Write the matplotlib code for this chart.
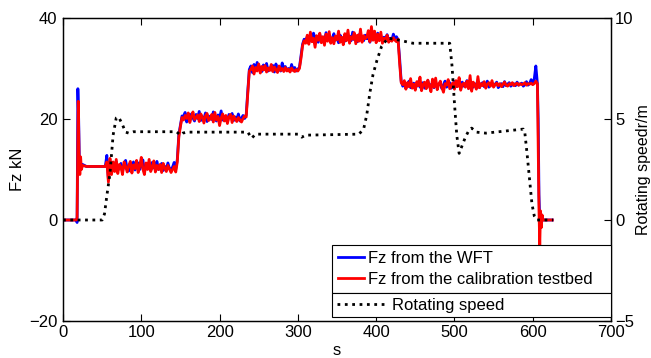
import numpy as np
import matplotlib
matplotlib.use("Agg")
import matplotlib.pyplot as plt

plt.rcParams['font.family'] = ['Liberation Sans', 'DejaVu Sans']

# ---------------- data ----------------
# Fz from the WFT (blue) - transition points
wft_t_start = [0, 17, 18, 19, 20, 21, 22, 23, 25, 30, 54]
wft_v_start = [0, 0, -0.5, 26, 20, 11, 12, 10.8, 11, 10.6, 10.6]
cal_t_start = [0, 17, 18, 19.5, 20.5, 21.5, 22.5, 23.5, 25, 30, 54]
cal_v_start = [0, 0, 0.5, 23.5, 13, 9, 12.5, 10, 10.8, 10.6, 10.6]

# noisy plateaus, sampled every 2 s
seg_starts = [56, 154, 240, 310, 434]
wft_A = [12.8, 8.0, 11.5, 9.5, 10.8, 10.2, 11.6, 9.8, 10.5, 11.2, 9.6, 10.9, 11.8, 10.1, 9.7,
         11.0, 10.4, 11.5, 9.9, 10.6, 11.3, 10.0, 10.8, 11.9, 9.8, 10.5, 11.1, 10.2, 9.9, 11.4,
         10.3, 10.7, 11.6, 10.0, 10.4, 11.2, 9.8, 10.6, 10.1, 11.3, 10.2, 9.9, 10.5, 11.4, 10.0]
cal_A = [11.5, 7.5, 12.2, 9.0, 11.5, 9.6, 12.0, 9.2, 11.0, 10.5, 9.0, 11.5, 10.6, 9.5, 10.8,
         11.6, 9.3, 10.9, 10.2, 11.8, 9.4, 10.7, 12.4, 10.1, 9.0, 11.3, 10.0, 12.0, 9.6, 10.4,
         11.7, 9.5, 10.8, 10.0, 11.0, 9.4, 11.2, 10.3, 9.6, 10.8, 10.1, 9.4, 10.0, 10.6, 9.5]
wft_B = [20.5, 21.3, 19.4, 20.8, 19.8, 21.0, 20.2, 19.6, 20.9, 20.1, 21.5, 19.7, 20.4, 20.0,
         21.2, 19.5, 20.6, 20.3, 19.9, 21.4, 20.1, 19.6, 20.8, 20.2, 21.6, 19.8, 20.5, 20.0,
         19.4, 20.9, 20.3, 21.1, 19.7, 20.4, 20.0, 21.0, 19.6, 20.2, 20.7, 20.1]
cal_B = [19.8, 20.7, 20.1, 21.2, 19.3, 20.5, 21.4, 19.9, 20.3, 20.8, 19.5, 21.0, 20.4, 19.2,
         20.6, 21.1, 19.7, 20.0, 20.9, 19.4, 21.3, 19.8, 20.5, 18.7, 20.2, 21.0, 19.6, 20.7,
         19.1, 20.4, 20.9, 19.3, 20.6, 20.0, 19.5, 20.3, 19.8, 19.4, 20.1, 20.6]
wft_C = [30.5, 29.2, 30.8, 29.6, 31.2, 29.9, 30.3, 29.4, 30.7, 29.8, 31.0, 29.5, 30.1, 29.7,
         30.6, 29.3, 30.9, 29.8, 30.2, 29.5, 31.1, 29.9, 30.4, 29.6, 30.0, 29.4, 30.8, 29.7,
         30.2, 29.5, 29.9]
cal_C = [29.8, 30.5, 28.9, 30.2, 29.5, 30.9, 29.1, 30.4, 29.7, 30.6, 29.3, 30.1, 29.6, 30.8,
         29.4, 30.3, 29.8, 29.2, 30.5, 29.6, 30.0, 29.4, 30.2, 29.5, 29.9, 29.3, 30.1, 29.6,
         29.4, 29.8, 29.5]
wft_D = [35.5, 36.3, 35.1, 36.8, 35.6, 37.0, 35.9, 36.4, 35.2, 36.7, 35.8, 36.2, 35.4, 37.1,
         35.7, 36.5, 35.3, 36.0, 36.9, 35.6, 36.3, 35.1, 36.6, 35.8, 36.1, 35.4, 36.8, 35.9,
         36.4, 35.5, 37.2, 35.7, 36.2, 35.3, 36.7, 35.8, 36.0, 35.5, 36.6, 35.9, 36.3, 35.2,
         36.9, 35.7, 36.1, 35.6, 37.0, 35.9, 36.4, 35.5, 36.2, 35.8, 36.7, 35.4, 36.0, 35.6,
         36.8, 35.9, 36.3, 35.7]
cal_D = [35.0, 36.6, 34.8, 37.2, 35.3, 36.0, 34.2, 36.5, 35.6, 37.0, 35.1, 36.3, 34.6, 36.8,
         35.4, 37.3, 35.0, 36.1, 34.9, 36.4, 35.7, 37.4, 35.2, 36.2, 34.7, 36.9, 35.5, 37.6,
         35.0, 36.3, 35.8, 37.1, 34.9, 36.6, 35.4, 37.8, 35.2, 36.5, 35.9, 36.2, 37.5, 35.3,
         38.3, 35.6, 37.4, 35.1, 36.8, 35.5, 37.2, 35.0, 36.0, 35.7, 36.6, 35.2, 35.9, 35.4,
         36.1, 35.6, 35.3, 35.8]
wft_E = [26.5, 27.3, 26.1, 26.9, 27.5, 26.2, 26.8, 27.1, 26.0, 26.7, 27.4, 26.3, 26.9, 27.2,
         26.1, 26.6, 27.6, 26.4, 26.8, 27.0, 26.2, 27.3, 26.5, 26.9, 27.1, 26.0, 26.7, 27.5,
         26.3, 26.8, 27.2, 26.1, 26.6, 27.4, 26.4, 26.9, 27.0, 26.2, 27.3, 26.5, 26.8, 27.6,
         26.1, 26.7, 27.1, 26.3, 27.0, 26.6, 27.4, 26.2, 26.9, 27.2, 26.4, 26.8, 27.5, 26.3,
         26.7, 27.1, 26.5, 26.9, 27.3, 26.2, 26.8, 27.0, 26.4, 27.4, 26.6, 26.9, 27.2, 26.5,
         26.8, 27.0, 26.6, 27.3, 26.7, 26.9, 27.1, 26.5, 26.8, 27.4, 26.7, 27.0, 27.8, 26.9,
         28.0]
cal_E = [26.8, 27.6, 25.9, 27.2, 26.4, 28.0, 26.1, 26.9, 25.7, 27.4, 26.6, 28.3, 25.6, 26.8,
         27.3, 26.0, 27.7, 26.5, 25.4, 27.9, 26.3, 28.1, 25.8, 26.9, 27.5, 26.2, 25.3, 27.0,
         26.7, 27.8, 26.0, 26.6, 27.2, 25.9, 27.6, 26.4, 28.2, 25.7, 26.8, 27.1, 26.3, 27.5,
         26.0, 28.6, 25.5, 27.3, 26.7, 25.9, 28.4, 26.2, 27.0, 26.6, 27.4, 26.1, 26.9, 27.2,
         26.5, 27.6, 26.3, 26.8, 27.1, 26.6, 27.0, 26.4, 26.9, 27.3, 26.7, 26.5, 27.0, 26.8,
         27.2, 26.6, 26.9, 27.1, 26.7, 27.0, 26.8, 26.9, 27.2, 26.7, 27.0, 26.9, 27.1, 26.8,
         27.0]

# transitions between plateaus
trans_AB_t = [146, 148, 150, 152]
wft_AB = [12.0, 17.0, 18.8, 20.6]
cal_AB = [11.5, 16.5, 18.5, 20.3]
trans_BC_t = [234, 236, 238]
wft_BC = [20.8, 25.5, 29.8]
cal_BC = [20.4, 25.0, 29.5]
trans_CD_t = [302, 304, 306, 308]
wft_CD = [30.2, 32.5, 34.8, 35.8]
cal_CD = [30.0, 32.0, 34.5, 35.5]
trans_DE_t = [430, 432]
wft_DE = [32.0, 27.5]
cal_DE = [31.0, 27.2]

wft_t_end = [604, 606, 607, 608, 609, 610, 611, 612, 613, 625]
wft_v_end = [30.5, 27.0, 20.0, 5.0, 0.0, 1.5, -1.0, 0.5, 0.0, 0.0]
cal_t_end = [604, 606, 607, 608, 609, 610, 611, 612, 613, 625]
cal_v_end = [27.5, 27.0, 15.0, 2.0, -5.0, 1.8, -1.5, 1.0, 0.0, 0.0]

# rotating speed (r/m)
speed_t = [0, 50, 53, 56, 60, 64, 68, 71, 75, 80, 84, 90, 145, 150, 153, 158, 236, 241, 246,
           300, 305, 310, 378, 384, 388, 392, 396, 401, 407, 415, 430, 447,
           494, 497, 500, 503, 506, 510, 514, 518, 522, 528, 540, 588, 590, 593, 596, 599,
           602, 605, 626]
speed_v = [0, 0, 0.3, 1.2, 2.3, 4.2, 5.05, 5.1, 4.8, 4.35, 4.3, 4.37, 4.37, 4.2, 4.3, 4.35,
           4.35, 4.05, 4.25, 4.25, 4.1, 4.2, 4.25, 4.5, 5.2, 6.3, 7.2, 7.9, 8.6, 9.0, 8.9, 8.75,
           8.75, 7.6, 5.8, 4.2, 3.3, 3.7, 4.1, 4.4, 4.55, 4.35, 4.3, 4.5, 4.3, 3.2, 2.0, 0.8,
           0.2, 0.0, 0.0]


def seg_times(start, vals):
    return list(start + 2 * np.arange(len(vals)))


def build(t_start, v_start, plateaus, transitions, t_end, v_end):
    t, v = list(t_start), list(v_start)
    for i, vals in enumerate(plateaus):
        t += seg_times(seg_starts[i], vals)
        v += list(vals)
        if i < len(transitions):
            t += transitions[i][0]
            v += transitions[i][1]
    t += t_end
    v += v_end
    return np.array(t, float), np.array(v, float)


wft_t, wft_v = build(wft_t_start, wft_v_start, [wft_A, wft_B, wft_C, wft_D, wft_E],
                     [(trans_AB_t, wft_AB), (trans_BC_t, wft_BC), (trans_CD_t, wft_CD),
                      (trans_DE_t, wft_DE)], wft_t_end, wft_v_end)
cal_t, cal_v = build(cal_t_start, cal_v_start, [cal_A, cal_B, cal_C, cal_D, cal_E],
                     [(trans_AB_t, cal_AB), (trans_BC_t, cal_BC), (trans_CD_t, cal_CD),
                      (trans_DE_t, cal_DE)], cal_t_end, cal_v_end)

# ---------------- figure ----------------
fs = 12
fig = plt.figure(figsize=(6.51, 3.58), dpi=100)
ax1 = fig.add_axes([63 / 651, 37 / 358, 548 / 651, 303 / 358])
ax2 = ax1.twinx()

l1, = ax1.plot(wft_t, wft_v, color=(0, 0, 1), lw=2.0, label='Fz from the WFT')
l2, = ax1.plot(cal_t, cal_v, color=(1, 0, 0), lw=2.0, label='Fz from the calibration testbed')
l3, = ax2.plot(speed_t, speed_v, color='black', lw=2.0, ls=':', label='Rotating speed')

ax1.set_xlim(0, 700)
ax1.set_ylim(-20, 40)
ax2.set_ylim(-5, 10)
ax1.set_xticks(np.arange(0, 701, 100))
ax1.set_yticks([-20, 0, 20, 40])
ax2.set_yticks([-5, 0, 5, 10])

ax1.tick_params(axis='both', direction='in', length=5, width=0.8, labelsize=fs,
                top=True, right=False, pad=3)
ax1.tick_params(axis='y', pad=4)
ax2.tick_params(axis='y', direction='in', length=5, width=0.8, labelsize=fs, pad=3)
for ax in (ax1, ax2):
    for s in ax.spines.values():
        s.set_linewidth(0.9)

ax1.set_ylabel('Fz kN', fontsize=fs, labelpad=3)
ax1.set_xlabel('s', fontsize=fs, labelpad=2)
ax2.set_ylabel('Rotating speedr/m', fontsize=11.5, labelpad=1)

leg1 = ax2.legend(handles=[l1, l2], loc='lower left', mode='expand',
                  bbox_to_anchor=(0.491, 0.0924, 0.509, 0.16), borderaxespad=0,
                  fancybox=False, framealpha=1, edgecolor='black', fontsize=fs,
                  handlelength=1.55, handletextpad=0.2, labelspacing=0.34,
                  borderpad=0.38)
leg1.get_frame().set_linewidth(0.8)
ax2.add_artist(leg1)
leg2 = ax2.legend(handles=[l3], loc='lower left', mode='expand',
                  bbox_to_anchor=(0.491, 0.0132, 0.509, 0.08), borderaxespad=0,
                  fancybox=False, framealpha=1, edgecolor='black', fontsize=fs,
                  handlelength=2.9, handletextpad=0.45, borderpad=0.27)
leg2.get_frame().set_linewidth(0.8)

fig.savefig('out.png', dpi=100)
